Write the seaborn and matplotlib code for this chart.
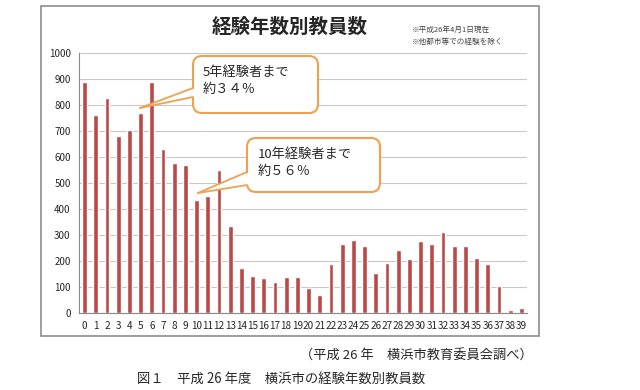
import numpy as np
import pandas as pd
import matplotlib
matplotlib.use("Agg")
import matplotlib.pyplot as plt
from matplotlib.patches import Rectangle, FancyBboxPatch, Polygon
from matplotlib.lines import Line2D
from matplotlib.transforms import Affine2D
import seaborn as sns

# 経験年数 0..39 と教員数
years = list(range(40))
teachers = [890, 760, 827, 679, 703, 769, 888, 631, 576, 568,
            436, 451, 549, 336, 173, 144, 133, 121, 137, 137,
            97, 69, 187, 264, 281, 259, 155, 191, 242, 209,
            278, 264, 310, 259, 259, 213, 187, 104, 13, 18]
y_ticks = list(range(0, 1001, 100))

title = "経験年数別教員数"
notes = ["※平成26年4月1日現在", "※他都市等での経験を除く"]
callout1 = ["5年経験者まで", "約３４％"]
callout2 = ["10年経験者まで", "約５６％"]
source = "（平成 26 年　横浜市教育委員会調べ）"
caption = "図１　平成 26 年度　横浜市の経験年数別教員数"

df = pd.DataFrame({"year": [str(y) for y in years], "n": teachers})

sns.set_style("white")
plt.rcParams['font.family'] = ['Noto Sans CJK JP', 'DejaVu Sans']

W, H = 640, 390
fig = plt.figure(figsize=(W / 100, H / 100), dpi=100)
pix = Affine2D().scale(1 / W, -1 / H).translate(0, 1) + fig.transFigure

ax = fig.add_axes([79 / W, 1 - 313 / H, 448 / W, 260 / H])
sns.barplot(data=df, x="year", y="n", color="#BA4A48", saturation=1,
            width=0.42, ax=ax)

ax.set_ylim(0, 1000)
ax.set_xlim(-0.5, 39.5)
ax.set_yticks(y_ticks)
ax.set_xlabel("")
ax.set_ylabel("")
ax.grid(axis="y", color="#C8C8C8", lw=0.8)
ax.set_axisbelow(True)
for s in ["top", "right"]:
    ax.spines[s].set_visible(False)
for s in ["left", "bottom"]:
    ax.spines[s].set_color("#888888")
    ax.spines[s].set_linewidth(0.8)
ax.tick_params(axis="y", length=3, color="#888888", labelsize=7, pad=3)
ax.tick_params(axis="x", which="major", length=0, labelsize=7.2, pad=6)
ax.set_xticks(np.arange(-0.5, 40, 1), minor=True)
ax.tick_params(axis="x", which="minor", length=3, color="#888888")

# 外枠
fig.add_artist(Rectangle((41, 6), 498, 330, transform=pix, fill=False,
                         ec="#8C8C8C", lw=1.2))

fig.text(290 / W, 1 - 27 / H, title, ha="center", va="center",
         fontsize=14, fontweight="bold")
fig.text(412 / W, 1 - 30 / H, notes[0], ha="left", va="center",
         fontsize=5.5, color="#444444")
fig.text(412 / W, 1 - 42 / H, notes[1], ha="left", va="center",
         fontsize=5.5, color="#444444")

orange = "#F0A050"


def callout(x0, y0, w, h, base, tip, lines, tx, ty):
    box = FancyBboxPatch((x0, y0), w, h, boxstyle="round,pad=0,rounding_size=9",
                         transform=pix, fc="white", ec=orange, lw=1.5, zorder=5)
    fig.add_artist(box)
    (bx1, by1), (bx2, by2) = base
    fig.add_artist(Polygon([(bx1 + 3, by1), tip, (bx2 + 3, by2)], closed=True,
                           transform=pix, fc="white", ec="none", zorder=6))
    for bx, by in base:
        fig.add_artist(Line2D([bx, tip[0]], [by, tip[1]], transform=pix,
                              color=orange, lw=1.3, zorder=7))
    for i, t in enumerate(lines):
        fig.text(tx / W, 1 - (ty + i * 17) / H, t, ha="left", va="center",
                 fontsize=9.5, zorder=8)


callout(193, 56, 125, 57, [(193, 88), (193, 97)], (140, 108), callout1, 203, 72)
callout(247, 138, 133, 54, [(247, 172), (247, 185)], (198, 193), callout2, 258, 154)

fig.text(533 / W, 1 - 356 / H, source, ha="right", va="center", fontsize=9.5)
fig.text(137 / W, 1 - 379 / H, caption, ha="left", va="center", fontsize=9.6)

fig.savefig("out.png", dpi=100)
